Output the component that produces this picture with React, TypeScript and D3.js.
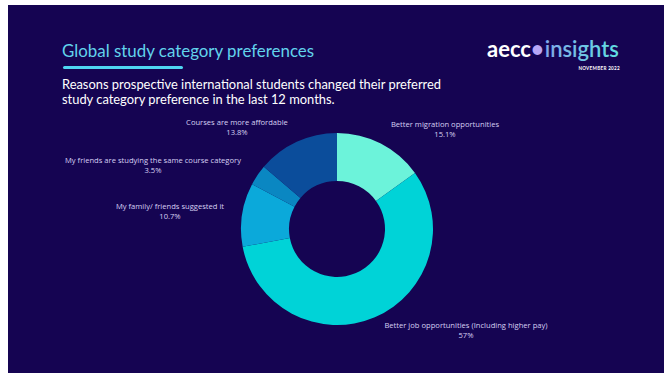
import React from "react";
import * as d3 from "d3";

const categories = [
  "Better migration opportunities",
  "Better job opportunities (Including higher pay)",
  "My family/ friends suggested it",
  "My friends are studying the same course category",
  "Courses are more affordable",
];
const values = [15.1, 57, 10.7, 3.5, 13.8];
const valueLabels = ["15.1%", "57%", "10.7%", "3.5%", "13.8%"];
const colors = ["#6cf3da", "#00d3d7", "#0ba9da", "#0a87c2", "#0b4d9b"];
// label anchor positions (x center, baseline y of first line)
const labelPos: [number, number][] = [
  [445, 127],
  [466, 328],
  [170, 209],
  [153, 163],
  [237, 125],
];

const W = 671;
const H = 377;
const cx = 337;
const cy = 229;
const outerR = 96;
const innerR = 48;

export default function App() {
  const pie = d3
    .pie<number>()
    .sort(null)
    .value((d) => d)
    .startAngle(0)
    .endAngle(2 * Math.PI);
  const arcs = pie(values);
  const arc = d3.arc<d3.PieArcDatum<number>>().innerRadius(innerR).outerRadius(outerR);

  return (
    <svg
      width={W}
      height={H}
      style={{ position: "absolute", left: 0, top: 0, display: "block" }}
      fontFamily="Lato, 'Open Sans', sans-serif"
    >
      <defs>
        <linearGradient id="lg" x1="0" x2="1" y1="0" y2="0">
          <stop offset="0" stopColor="#9b7cf0" />
          <stop offset="1" stopColor="#5fe0e0" />
        </linearGradient>
      </defs>
      <rect x={0} y={0} width={W} height={H} fill="#ffffff" />
      <rect x={8} y={5} width={656} height={368} fill="#150452" />

      <text x={62} y={57} fill="#62d3ec" fontSize={16.9} fontFamily="Lato, sans-serif">
        Global study category preferences
      </text>
      <rect x={63} y={66} width={120} height={3} rx={1.5} fill="#4fd6f2" />

      <text x={62} y={88.5} fill="#ffffff" fontSize={12.9}>
        Reasons prospective international students changed their preferred
      </text>
      <text x={62} y={104} fill="#ffffff" fontSize={12.9}>
        study category preference in the last 12 months.
      </text>

      <text x={487} y={57} fontSize={22} fontWeight={700} fill="#ffffff">
        aecc
        <tspan fill="#b7a6f6">•</tspan>
        <tspan fill="url(#lg)" fontWeight={600} dx={1}>insights</tspan>
      </text>
      <text x={620} y={70} fontSize={4.6} fill="#ffffff" textAnchor="end" fontWeight={700} letterSpacing={0.3}>
        NOVEMBER 2022
      </text>

      <g transform={`translate(${cx},${cy})`}>
        {arcs.map((a, i) => (
          <path key={i} d={arc(a) || ""} fill={colors[i]} />
        ))}
      </g>

      {categories.map((c, i) => (
        <g key={c} fill="#d6d0f2" fontSize={7.6} textAnchor="middle" fontFamily="'Open Sans', sans-serif">
          <text x={labelPos[i][0]} y={labelPos[i][1]}>{c}</text>
          <text x={labelPos[i][0]} y={labelPos[i][1] + 10}>{valueLabels[i]}</text>
        </g>
      ))}
    </svg>
  );
}
